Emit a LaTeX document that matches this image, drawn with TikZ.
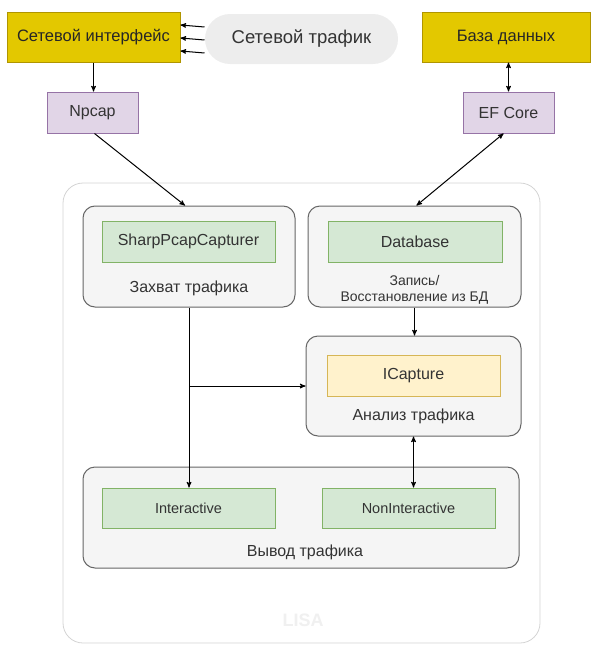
\documentclass[tikz,border=0pt]{standalone}
\usepackage{xcolor}
\usepackage{fontspec}
\setmainfont{Liberation Sans}
\usetikzlibrary{arrows, positioning}

\definecolor{extfill}{HTML}{E3C800}
\definecolor{extdraw}{HTML}{B09500}
\definecolor{libfill}{HTML}{E1D5E7}
\definecolor{libdraw}{HTML}{9673A6}
\definecolor{clsfill}{HTML}{D5E8D4}
\definecolor{clsdraw}{HTML}{82B366}
\definecolor{iffill}{HTML}{FFF2CC}
\definecolor{ifdraw}{HTML}{D6B656}
\definecolor{grpfill}{HTML}{F5F5F5}
\definecolor{grpdraw}{HTML}{666666}
\definecolor{txt}{HTML}{333333}

\begin{document}
\begin{tikzpicture}[x=1pt, y=-1pt,
			>=stealth',
			line width=1pt,
			font=\fontsize{14}{17}\selectfont,
			text=txt,
			extbox/.style={draw=extdraw, fill=extfill, minimum height=50pt, inner sep=0pt, font=\fontsize{16.5}{19}\selectfont, text=black!85},
			libbox/.style={draw=libdraw, fill=libfill, minimum width=91pt, minimum height=41pt, inner sep=0pt, font=\fontsize{16}{19}\selectfont},
			group/.style={draw=grpdraw, fill=grpfill, rounded corners=12pt, minimum height=101pt, inner sep=0pt},
			clsbox/.style={draw=clsdraw, fill=clsfill, minimum width=173pt, minimum height=41pt, inner sep=0pt},
			grplabel/.style={font=\fontsize{16}{17}\selectfont, align=center}]

	\useasboundingbox (0,0) rectangle (591,645);

	% outer frame
	\draw[draw=black!17, line width=0.8pt, fill=white, rounded corners=20pt] (63,183) rectangle (540,643);
	\node[text=black!6, font=\fontsize{18}{20}\selectfont\bfseries] (lisa) at (303,620) {LISA};

	% outside world
	\node[extbox, minimum width=173pt] (iface) at (93.5,37) {Сетевой интерфейс};
	\node[fill=black!7, rounded corners=25pt, minimum width=193pt, minimum height=50pt, font=\fontsize{18.5}{21}\selectfont] (traffic) at (301.5,39) {Сетевой трафик};
	\node[extbox, minimum width=168pt] (db) at (506,37) {База данных};
	\node[libbox] (npcap) at (92.5,112.5) {Npcap};
	\node[libbox] (efcore) at (508.5,112.5) {EF Core};

	% groups
	\node[group, minimum width=212pt] (capture) at (189,256.5) {};
	\node[clsbox, font=\fontsize{16}{19}\selectfont] (sharppcap) at (188.5,241.5) {SharpPcapCapturer};
	\node[grplabel] (capturelbl) at (189,288) {Захват трафика};

	\node[group, minimum width=213pt] (record) at (414.5,256.5) {};
	\node[clsbox, minimum width=174pt, font=\fontsize{16}{19}\selectfont] (database) at (415,241.5) {Database};
	\node[grplabel, font=\fontsize{14}{16}\selectfont] (recordlbl) at (414.5,290) {Запись/\\Восстановление из БД};

	\node[group, minimum width=215pt, minimum height=100pt] (analysis) at (413.5,386) {};
	\node[clsbox, draw=ifdraw, fill=iffill, font=\fontsize{16}{19}\selectfont] (icapture) at (413.5,375.5) {ICapture};
	\node[grplabel] (analysislbl) at (413.5,416) {Анализ трафика};

	\node[group, minimum width=436pt] (output) at (301,517.5) {};
	\node[clsbox, minimum height=40pt, font=\fontsize{14.5}{17}\selectfont] (interactive) at (188.5,508) {Interactive};
	\node[clsbox, minimum height=40pt, font=\fontsize{14.5}{17}\selectfont] (noninteractive) at (408.5,508) {NonInteractive};
	\node[grplabel] (outputlbl) at (305,552) {Вывод трафика};

	% connectors
	\foreach \dy in {-12,1,14}
		\draw[->] ([yshift=-\dy pt]traffic.west) -- ([yshift=-\dy pt]iface.east);
	\draw[->] (iface.south) -- (iface.south |- npcap.north);
	\draw[<->] (efcore.north) -- (efcore.north |- db.south);
	\draw[->] ([xshift=2pt]npcap.south) -- ([xshift=-4pt]capture.north);
	\draw[<->] ([xshift=-5pt]efcore.south) -- ([xshift=2pt]record.north);
	\draw[->] (record.south) -- (record.south |- analysis.north);
	\draw[->] (capture.south) -- (capture.south |- interactive.north);
	\coordinate (branch) at (capture.south |- analysis.west);
	\draw[->] (branch) -- (analysis.west);
	\draw[<->] (analysis.south) -- (analysis.south |- noninteractive.north);
\end{tikzpicture}
\end{document}
